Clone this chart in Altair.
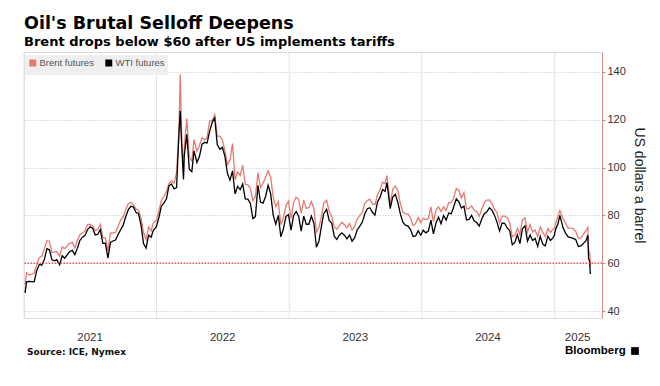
import altair as alt
import pandas as pd

# ---------------- data (weekly closes) ----------------
dates_2021 = ["2021-01-04","2021-01-08","2021-01-15","2021-01-22","2021-01-29",
    "2021-02-05","2021-02-12","2021-02-19","2021-02-26",
    "2021-03-05","2021-03-12","2021-03-19","2021-03-26",
    "2021-04-01","2021-04-09","2021-04-16","2021-04-23","2021-04-30",
    "2021-05-07","2021-05-14","2021-05-21","2021-05-28",
    "2021-06-04","2021-06-11","2021-06-18","2021-06-25",
    "2021-07-02","2021-07-09","2021-07-16","2021-07-23","2021-07-30",
    "2021-08-06","2021-08-13","2021-08-20","2021-08-27",
    "2021-09-03","2021-09-10","2021-09-17","2021-09-24",
    "2021-10-01","2021-10-08","2021-10-15","2021-10-22","2021-10-29",
    "2021-11-05","2021-11-12","2021-11-19","2021-11-26",
    "2021-12-03","2021-12-10","2021-12-17","2021-12-23","2021-12-31"]
brent_2021 = [51.1, 55.99, 55.1, 55.4, 55.9,
    59.3, 62.4, 62.9, 66.1,
    69.4, 69.2, 64.5, 64.6,
    64.9, 62.95, 66.8, 66.1, 67.3,
    68.3, 68.7, 66.4, 69.6,
    71.9, 72.7, 73.5, 76.2,
    76.2, 75.6, 73.6, 74.1, 76.3,
    70.7, 70.6, 65.2, 72.7,
    72.6, 72.9, 75.3, 78.1,
    79.3, 82.4, 84.9, 85.5, 84.4,
    82.7, 82.2, 78.9, 72.7,
    69.9, 75.2, 73.5, 76.9, 77.8]
wti_2021 = [47.6, 52.2, 52.4, 52.3, 52.2,
    56.9, 59.5, 59.2, 61.5,
    66.1, 65.6, 61.4, 61.0,
    61.5, 59.3, 63.1, 62.1, 63.6,
    64.9, 65.4, 63.6, 66.3,
    69.6, 70.9, 71.6, 74.1,
    75.2, 74.6, 71.8, 72.1, 74.0,
    68.3, 68.4, 62.1, 68.7,
    69.3, 69.7, 72.0, 74.0,
    75.9, 79.4, 82.3, 83.8, 83.6,
    81.3, 80.8, 76.1, 68.2,
    66.3, 71.7, 70.9, 73.8, 75.2]

dates_2022 = ["2022-01-07","2022-01-14","2022-01-21","2022-01-28",
    "2022-02-04","2022-02-11","2022-02-18","2022-02-25",
    "2022-03-04","2022-03-07","2022-03-11","2022-03-16","2022-03-18","2022-03-25",
    "2022-04-01","2022-04-08","2022-04-14","2022-04-22","2022-04-29",
    "2022-05-06","2022-05-13","2022-05-20","2022-05-27",
    "2022-06-03","2022-06-10","2022-06-17","2022-06-24",
    "2022-07-01","2022-07-08","2022-07-15","2022-07-22","2022-07-29",
    "2022-08-05","2022-08-12","2022-08-19","2022-08-26",
    "2022-09-02","2022-09-09","2022-09-16","2022-09-23","2022-09-30",
    "2022-10-07","2022-10-14","2022-10-21","2022-10-28",
    "2022-11-04","2022-11-11","2022-11-18","2022-11-25",
    "2022-12-02","2022-12-09","2022-12-16","2022-12-23","2022-12-30"]
brent_2022 = [81.8, 86.1, 87.9, 90.0,
    93.3, 94.4, 93.5, 97.9,
    118.1, 139.0, 112.7, 98.0, 107.9, 120.6,
    104.4, 102.8, 111.7, 106.7, 109.3,
    112.4, 111.6, 112.6, 119.4,
    119.7, 122.0, 113.1, 113.1,
    111.6, 107.0, 101.2, 103.2, 110.0,
    94.9, 98.2, 96.7, 101.0,
    93.0, 92.8, 91.4, 86.2, 88.0,
    97.9, 91.6, 93.5, 95.8,
    98.6, 96.0, 87.6, 83.6,
    85.6, 76.1, 79.0, 84.0, 85.9]
wti_2022 = [78.9, 83.8, 85.1, 86.8,
    92.3, 93.1, 91.1, 91.6,
    115.7, 123.7, 109.3, 95.0, 104.7, 113.9,
    99.3, 98.3, 107.0, 102.1, 104.7,
    109.8, 110.5, 110.3, 115.1,
    118.9, 120.7, 109.6, 107.6,
    108.4, 104.8, 97.6, 94.7, 98.6,
    89.0, 92.1, 90.8, 93.1,
    86.9, 86.8, 85.1, 78.7, 79.5,
    92.6, 85.6, 85.1, 87.9,
    92.6, 89.0, 80.1, 76.3,
    80.0, 71.0, 74.3, 79.6, 80.3]

dates_2023 = ["2023-01-06","2023-01-13","2023-01-20","2023-01-27",
    "2023-02-03","2023-02-10","2023-02-17","2023-02-24",
    "2023-03-03","2023-03-10","2023-03-17","2023-03-24","2023-03-31",
    "2023-04-06","2023-04-14","2023-04-21","2023-04-28",
    "2023-05-05","2023-05-12","2023-05-19","2023-05-26",
    "2023-06-02","2023-06-09","2023-06-16","2023-06-23","2023-06-30",
    "2023-07-07","2023-07-14","2023-07-21","2023-07-28",
    "2023-08-04","2023-08-11","2023-08-18","2023-08-25",
    "2023-09-01","2023-09-08","2023-09-15","2023-09-22","2023-09-27",
    "2023-10-06","2023-10-13","2023-10-20","2023-10-27",
    "2023-11-03","2023-11-10","2023-11-17","2023-11-24",
    "2023-12-01","2023-12-08","2023-12-15","2023-12-22","2023-12-29"]
brent_2023 = [78.6, 85.3, 87.6, 86.7,
    80.9, 86.4, 83.0, 83.2,
    85.8, 82.8, 73.0, 75.0, 79.8,
    85.1, 86.3, 81.7, 79.5,
    75.3, 74.2, 75.6, 77.1,
    76.1, 74.8, 76.6, 73.9, 75.4,
    78.5, 79.9, 81.1, 85.0,
    86.2, 86.8, 84.8, 84.5,
    88.6, 90.7, 93.9, 93.3, 96.6,
    84.6, 90.9, 92.2, 90.5,
    84.9, 81.4, 80.6, 80.6,
    78.9, 75.8, 76.6, 79.1, 77.0]
wti_2023 = [73.8, 79.9, 81.6, 79.7,
    73.4, 79.7, 76.3, 76.3,
    79.7, 76.7, 66.7, 69.3, 75.7,
    80.7, 82.5, 77.9, 76.8,
    71.3, 70.0, 71.7, 72.7,
    71.7, 70.2, 71.8, 69.2, 70.6,
    73.9, 75.4, 77.1, 80.6,
    82.8, 83.2, 81.3, 80.1,
    85.6, 87.5, 90.8, 90.0, 93.7,
    82.8, 87.7, 88.8, 85.5,
    80.5, 77.2, 75.9, 75.5,
    74.1, 71.2, 71.4, 73.6, 71.7]

dates_2024 = ["2024-01-05","2024-01-12","2024-01-19","2024-01-26",
    "2024-02-02","2024-02-09","2024-02-16","2024-02-23",
    "2024-03-01","2024-03-08","2024-03-15","2024-03-22","2024-03-28",
    "2024-04-05","2024-04-12","2024-04-19","2024-04-26",
    "2024-05-03","2024-05-10","2024-05-17","2024-05-24","2024-05-31",
    "2024-06-07","2024-06-14","2024-06-21","2024-06-28",
    "2024-07-05","2024-07-12","2024-07-19","2024-07-26",
    "2024-08-02","2024-08-09","2024-08-16","2024-08-23","2024-08-30",
    "2024-09-06","2024-09-13","2024-09-20","2024-09-27",
    "2024-10-04","2024-10-11","2024-10-18","2024-10-25",
    "2024-11-01","2024-11-08","2024-11-15","2024-11-22","2024-11-29",
    "2024-12-06","2024-12-13","2024-12-20","2024-12-27","2024-12-31"]
brent_2024 = [78.8, 78.3, 78.6, 83.6,
    77.3, 82.2, 83.5, 81.6,
    83.6, 82.1, 85.3, 85.4, 87.0,
    91.2, 90.5, 87.3, 89.5,
    82.8, 82.8, 84.0, 82.1, 81.6,
    79.6, 82.6, 85.2, 86.4,
    86.5, 85.0, 82.6, 81.1,
    76.8, 79.7, 79.7, 79.0, 76.9,
    71.1, 71.6, 74.5, 72.0,
    78.1, 79.0, 73.1, 76.1,
    73.1, 73.9, 71.0, 75.2, 72.9,
    71.1, 74.5, 72.9, 74.2, 74.6]
wti_2024 = [73.8, 72.7, 73.4, 78.0,
    72.3, 76.8, 79.2, 76.5,
    80.0, 78.0, 81.0, 80.6, 83.2,
    86.9, 85.7, 83.1, 83.9,
    78.1, 78.3, 80.0, 77.7, 77.0,
    75.5, 78.5, 80.7, 81.5,
    83.2, 82.2, 80.1, 77.2,
    73.5, 76.8, 76.7, 74.8, 73.6,
    67.7, 68.7, 71.9, 68.2,
    74.4, 75.6, 69.2, 71.8,
    69.5, 70.4, 67.0, 71.2, 68.0,
    67.2, 71.3, 69.5, 70.6, 71.7]

dates_2025 = ["2025-01-03","2025-01-10","2025-01-15","2025-01-24","2025-01-31",
    "2025-02-07","2025-02-14","2025-02-21","2025-02-28",
    "2025-03-07","2025-03-14","2025-03-21","2025-03-28",
    "2025-04-02","2025-04-03","2025-04-04","2025-04-07","2025-04-08","2025-04-09"]
brent_2025 = [76.5, 79.8, 82.0, 78.5, 76.8,
    74.7, 74.7, 74.4, 73.2,
    70.4, 70.6, 72.2, 73.6,
    75.0, 70.1, 65.6, 64.2, 62.8, 58.6]
wti_2025 = [74.0, 76.6, 80.0, 74.7, 72.5,
    71.0, 70.7, 70.4, 69.8,
    67.0, 67.2, 68.3, 69.4,
    71.7, 67.0, 62.0, 60.7, 57.6, 55.5]

series_names = ["Brent futures", "WTI futures"]
series_colors = ["#e67a72", "#000000"]

year_starts = ["2021-01-01", "2022-01-01", "2023-01-01", "2024-01-01", "2025-01-01"]
year_labels = ["2021", "2022", "2023", "2024", "2025"]
year_label_dates = ["2021-07-02", "2022-07-02", "2023-07-02", "2024-07-01", "2025-03-05"]
y_ticks = [40, 60, 80, 100, 120, 140]
threshold = [60]

# ---------------- build tables ----------------
dates = dates_2021 + dates_2022 + dates_2023 + dates_2024 + dates_2025
brent = brent_2021 + brent_2022 + brent_2023 + brent_2024 + brent_2025
wti = wti_2021 + wti_2022 + wti_2023 + wti_2024 + wti_2025
assert len(dates) == len(brent) == len(wti)

wide = pd.DataFrame({"date": dates, series_names[0]: brent, series_names[1]: wti})
long = wide.melt("date", var_name="series", value_name="price")

W, H = 578, 266
x_scale = alt.Scale(domain=[alt.DateTime(year=2021, month=1, date=1),
                            alt.DateTime(year=2025, month=5, date=11)])
y_scale = alt.Scale(domain=[37.1, 148.3], nice=False, zero=False)

grid_v = alt.Chart(pd.DataFrame({"date": year_starts})).mark_rule(
    color="#e3e3e3", strokeWidth=1
).encode(x=alt.X("date:T", scale=x_scale, axis=None))

lines = alt.Chart(long).mark_line(strokeWidth=1.3, interpolate="linear").encode(
    x=alt.X("date:T", scale=x_scale, axis=None),
    y=alt.Y("price:Q", scale=y_scale,
            axis=alt.Axis(orient="right", values=y_ticks, grid=True,
                          gridColor="#c4c4c4", gridDash=[1, 2], gridWidth=1,
                          domainColor="#e28a8a", domainWidth=1,
                          tickColor="#9a9a9a", tickSize=3,
                          labelFont="Liberation Sans", labelFontSize=11,
                          labelColor="#333333", labelPadding=2,
                          title="US dollars a barrel", titleFont="Liberation Sans",
                          titleFontSize=14, titleFontWeight="normal",
                          titleColor="#222222", titleAngle=90, titlePadding=6)),
    color=alt.Color("series:N",
                    scale=alt.Scale(domain=series_names, range=series_colors),
                    legend=alt.Legend(orient="none", legendX=1, legendY=3,
                                      title=None, direction="horizontal",
                                      fillColor="#efefef", padding=3,
                                      symbolType="square", symbolSize=12,
                                      symbolStrokeWidth=3.5,
                                      labelFont="Liberation Sans", labelFontSize=9.5,
                                      labelColor="#555555", labelOffset=2,
                                      columnPadding=6)),
)

ref60 = alt.Chart(pd.DataFrame({"price": threshold})).mark_rule(
    color="#e23a3a", strokeDash=[1.5, 1.5], strokeWidth=1.2
).encode(y=alt.Y("price:Q", scale=y_scale))

ylab = alt.Chart(pd.DataFrame({"date": year_label_dates, "label": year_labels})).mark_text(
    font="Liberation Sans", fontSize=11.5, color="#333333", baseline="middle", align="center"
).encode(x=alt.X("date:T", scale=x_scale, axis=None), y=alt.value(H + 20), text="label:N")

source = alt.Chart(pd.DataFrame({"t": ["Source: ICE, Nymex"]})).mark_text(
    font="DejaVu Sans", fontWeight="bold", fontSize=9, align="left", baseline="middle",
    color="#111111"
).encode(x=alt.value(3), y=alt.value(H + 34), text="t:N")

brand = alt.Chart(pd.DataFrame({"t": ["Bloomberg"]})).mark_text(
    font="Liberation Sans", fontWeight="bold", fontSize=11.5, align="left",
    baseline="middle", color="#000000"
).encode(x=alt.value(541), y=alt.value(H + 33), text="t:N")

logo = alt.Chart(pd.DataFrame({"t": ["x"]})).mark_square(
    size=60, color="#000000", opacity=1
).encode(x=alt.value(611), y=alt.value(H + 33))

chart = alt.layer(grid_v, lines, ref60, ylab, source, brand, logo).properties(
    width=W, height=H,
    padding={"left": 14, "top": 7, "right": 5, "bottom": 5},
    title=alt.TitleParams(
        text="Oil's Brutal Selloff Deepens",
        subtitle="Brent drops below $60 after US implements tariffs",
        anchor="start", frame="group",
        font="DejaVu Sans", fontSize=17.5, fontWeight="bold", color="#000000",
        subtitleFont="DejaVu Sans", subtitleFontSize=13, subtitleFontWeight="bold",
        subtitleColor="#000000", subtitlePadding=3, offset=3),
).configure_view(stroke=None).configure(background="#ffffff")

chart.save("out.html", embed_options={"renderer": "svg", "actions": False})
